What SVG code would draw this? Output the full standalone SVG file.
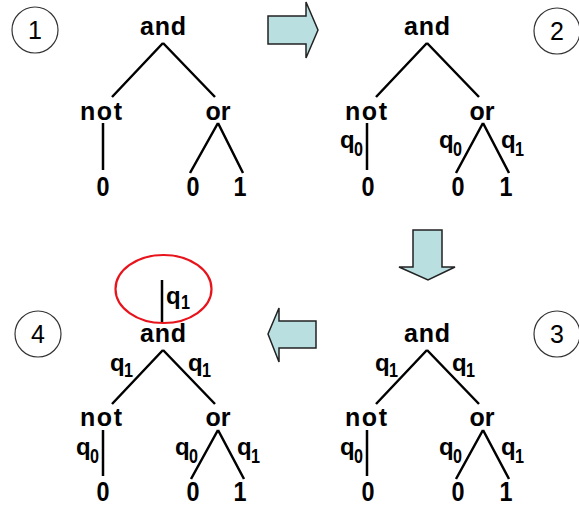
<svg xmlns="http://www.w3.org/2000/svg" width="579" height="508" viewBox="0 0 579 508">
<style>
.w{font-family:"Liberation Sans",Arial,sans-serif;font-weight:bold;font-size:25px;text-anchor:middle;fill:#000}
.d{font-family:"Liberation Sans",Arial,sans-serif;font-weight:bold;font-size:27px;text-anchor:middle;fill:#000}
.q{font-family:"Liberation Sans",Arial,sans-serif;font-weight:bold;font-size:24px;fill:#000}
.s{font-family:"Liberation Sans",Arial,sans-serif;font-weight:bold;font-size:20px;fill:#000}
.n{font-family:"Liberation Sans",Arial,sans-serif;font-size:25px;text-anchor:middle;fill:#000}
.e{stroke:#000;stroke-width:2.5;fill:none}
.c{fill:#fff;stroke:#333;stroke-width:1.2}
.a{fill:#b9dfe1;stroke:#222;stroke-width:1.5;stroke-linejoin:miter}
</style>
<g id="connectors">
<path class="e" d="M163,43 L112,97 M163,43 L215,97 M103,123 L103,170 M218,123 L190,173 M218,123 L243,173"/>
<path class="e" d="M427,43 L376,97 M427,43 L479,97 M367,123 L367,170 M483,123 L456,173 M483,123 L509,173"/>
<path class="e" d="M427,350 L376,404 M427,350 L479,404 M367,430 L367,476 M483,430 L456,479 M483,430 L509,479"/>
<path class="e" d="M163,350 L112,404 M163,350 L215,404 M103,430 L103,476 M218,430 L191,479 M218,430 L244,479 M162,280 L162,322"/>
</g>
<g id="step1">
<circle class="c" cx="35" cy="30" r="23"/><text class="n" x="35" y="39">1</text>
</g>
<g id="step2">
<circle class="c" cx="557" cy="31" r="23"/><text class="n" x="557" y="40">2</text>
</g>
<g id="step3">
<circle class="c" cx="557" cy="334" r="23"/><text class="n" x="557" y="343">3</text>
</g>
<g id="step4">
<circle class="c" cx="38" cy="334" r="23"/><text class="n" x="38" y="343">4</text>
</g>
<g id="arrow-right"><polygon class="a" points="268,16 306,16 306,2 318,30 306,58 306,44 268,44"/></g>
<g id="arrow-down"><polygon class="a" points="413,230 442,230 442,267 455,267 428,280 399,267 413,267"/></g>
<g id="arrow-left"><polygon class="a" points="316,321 279,321 279,308 268,334 279,362 279,348 316,348"/></g>

<g id="tree1">
<text class="w" x="163" y="35" textLength="46" lengthAdjust="spacing">and</text>
<text class="w" x="101" y="120" textLength="42" lengthAdjust="spacing">not</text>
<text class="w" x="218" y="120">or</text>
<text class="d" x="103" y="196" textLength="13" lengthAdjust="spacingAndGlyphs">0</text>
<text class="d" x="193" y="196" textLength="13" lengthAdjust="spacingAndGlyphs">0</text>
<text class="d" x="240" y="196" textLength="13" lengthAdjust="spacingAndGlyphs">1</text>
</g>

<g id="tree2">
<text class="w" x="427" y="35" textLength="46" lengthAdjust="spacing">and</text>
<text class="w" x="366" y="120" textLength="42" lengthAdjust="spacing">not</text>
<text class="w" x="482" y="120">or</text>
<text class="d" x="368" y="196" textLength="13" lengthAdjust="spacingAndGlyphs">0</text>
<text class="d" x="458" y="196" textLength="13" lengthAdjust="spacingAndGlyphs">0</text>
<text class="d" x="506" y="196" textLength="13" lengthAdjust="spacingAndGlyphs">1</text>
<text class="q" x="340" y="148">q</text><text class="s" x="354" y="156" textLength="9" lengthAdjust="spacingAndGlyphs">0</text>
<text class="q" x="439" y="148">q</text><text class="s" x="453" y="156" textLength="9" lengthAdjust="spacingAndGlyphs">0</text>
<text class="q" x="501" y="148">q</text><text class="s" x="515" y="156" textLength="9" lengthAdjust="spacingAndGlyphs">1</text>
</g>

<g id="tree3">
<text class="w" x="427" y="342" textLength="46" lengthAdjust="spacing">and</text>
<text class="w" x="366" y="426" textLength="42" lengthAdjust="spacing">not</text>
<text class="w" x="482" y="426">or</text>
<text class="d" x="368" y="501" textLength="13" lengthAdjust="spacingAndGlyphs">0</text>
<text class="d" x="458" y="501" textLength="13" lengthAdjust="spacingAndGlyphs">0</text>
<text class="d" x="506" y="501" textLength="13" lengthAdjust="spacingAndGlyphs">1</text>
<text class="q" x="375" y="371">q</text><text class="s" x="389" y="377" textLength="9" lengthAdjust="spacingAndGlyphs">1</text>
<text class="q" x="452" y="371">q</text><text class="s" x="466" y="377" textLength="9" lengthAdjust="spacingAndGlyphs">1</text>
<text class="q" x="340" y="455">q</text><text class="s" x="354" y="463" textLength="9" lengthAdjust="spacingAndGlyphs">0</text>
<text class="q" x="439" y="455">q</text><text class="s" x="453" y="463" textLength="9" lengthAdjust="spacingAndGlyphs">0</text>
<text class="q" x="501" y="455">q</text><text class="s" x="515" y="463" textLength="9" lengthAdjust="spacingAndGlyphs">1</text>
</g>

<g id="tree4">
<ellipse cx="163.5" cy="289" rx="48" ry="34" fill="none" stroke="#e8141c" stroke-width="2.2"/>
<text class="q" x="166" y="304">q</text><text class="s" x="181" y="309" textLength="9" lengthAdjust="spacingAndGlyphs">1</text>
<text class="w" x="163" y="342" textLength="46" lengthAdjust="spacing">and</text>
<text class="w" x="101" y="426" textLength="42" lengthAdjust="spacing">not</text>
<text class="w" x="218" y="426">or</text>
<text class="d" x="103" y="501" textLength="13" lengthAdjust="spacingAndGlyphs">0</text>
<text class="d" x="193" y="501" textLength="13" lengthAdjust="spacingAndGlyphs">0</text>
<text class="d" x="240" y="501" textLength="13" lengthAdjust="spacingAndGlyphs">1</text>
<text class="q" x="110" y="371">q</text><text class="s" x="124" y="377" textLength="9" lengthAdjust="spacingAndGlyphs">1</text>
<text class="q" x="188" y="371">q</text><text class="s" x="202" y="377" textLength="9" lengthAdjust="spacingAndGlyphs">1</text>
<text class="q" x="76" y="455">q</text><text class="s" x="90" y="463" textLength="9" lengthAdjust="spacingAndGlyphs">0</text>
<text class="q" x="175" y="455">q</text><text class="s" x="189" y="463" textLength="9" lengthAdjust="spacingAndGlyphs">0</text>
<text class="q" x="237" y="455">q</text><text class="s" x="251" y="463" textLength="9" lengthAdjust="spacingAndGlyphs">1</text>
</g>
</svg>
